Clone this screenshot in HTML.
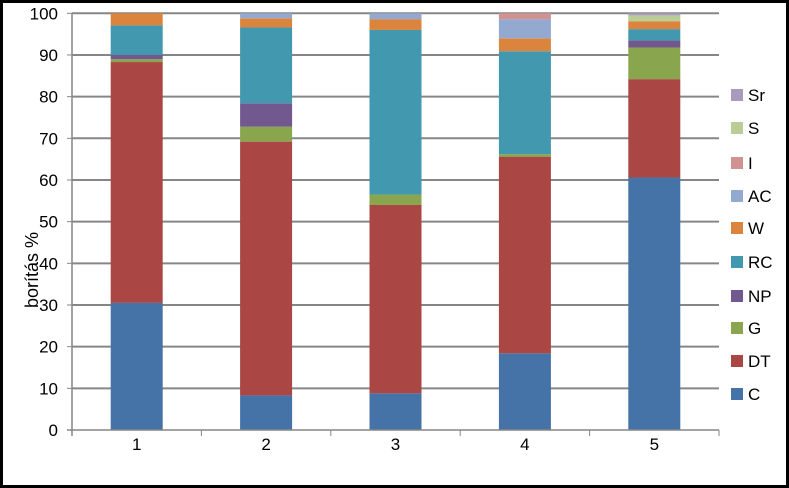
<!DOCTYPE html>
<html><head><meta charset="utf-8"><style>
html,body{margin:0;padding:0;background:#fff}
svg{display:block;font-family:"Liberation Sans",sans-serif}
</style></head><body>
<svg id="chart" width="789" height="488" xmlns="http://www.w3.org/2000/svg">
<rect x="1.5" y="1.5" width="786" height="485" fill="#fff" stroke="#000" stroke-width="3"/>
<g id="grid"></g><g id="bars"></g><g id="axes"></g><g id="legend"></g>
<text transform="translate(38,270) rotate(-90)" text-anchor="middle" font-size="18" fill="#000">borítás %</text>
</svg>
<script>
const categories = ["1","2","3","4","5"];
const seriesNames = ["C","DT","G","NP","RC","W","AC","I","S","Sr"];
const colors = ["#4572a7","#aa4643","#89a54e","#71588f","#4198af","#db843d","#93a9cf","#d19392","#b9cd96","#a99bbd"];
const sC  = [30.5, 8.3, 8.8, 18.4, 60.6];
const sDT = [57.8, 60.9, 45.2, 47.2, 23.6];
const sG  = [0.7, 3.6, 2.5, 0.6, 7.6];
const sNP = [1.0, 5.6, 0, 0, 1.7];
const sRC = [7.1, 18.2, 39.5, 24.7, 2.7];
const sW  = [2.9, 2.2, 2.6, 3.1, 1.9];
const sAC = [0, 1.2, 1.4, 4.6, 0];
const sI  = [0, 0, 0, 1.4, 0];
const sS  = [0, 0, 0, 0, 1.4];
const sSr = [0, 0, 0, 0, 0.5];
const yTicks = [0,10,20,30,40,50,60,70,80,90,100];

const series = [sC,sDT,sG,sNP,sRC,sW,sAC,sI,sS,sSr];
const NS="http://www.w3.org/2000/svg";
const X0=72, X1=719, Y0=430, Y1=13.3;
const y = v => Y0 - (v/100)*(Y0-Y1);
const band = (X1-X0)/categories.length;
const xc = i => X0 + band*(i+0.5);
const bw = 52;
function mk(tag, attrs, parent){const e=document.createElementNS(NS,tag);for(const k in attrs)e.setAttribute(k,attrs[k]);parent.appendChild(e);return e;}
const grid=document.getElementById('grid'), bars=document.getElementById('bars'), axes=document.getElementById('axes'), legend=document.getElementById('legend');
yTicks.forEach(t=>{
  if(t>0){const g=mk('line',{x1:X0,x2:X1,y1:y(t),y2:y(t),stroke:'#868686','stroke-width':2},grid);
  
  }
  const tk=mk('line',{x1:X0-5,x2:X0,y1:y(t),y2:y(t),stroke:'#868686','stroke-width':1},axes);
  
  
  const tl=mk('text',{x:X0-14,y:y(t)+6,'text-anchor':'end','font-size':17,fill:'#000'},axes);
  tl.textContent=t;
  
  
});
categories.forEach((c,i)=>{
  let acc=0;
  series.forEach((s,k)=>{
    const v=s[i]; if(v<=0) return;
    const r=mk('rect',{x:xc(i)-bw/2,y:y(acc+v),width:bw,height:y(acc)-y(acc+v),fill:colors[k]},bars);
    
    
    acc+=v;
  });
  const xl=mk('text',{x:xc(i),y:450,'text-anchor':'middle','font-size':17,fill:'#000'},axes);
  xl.textContent=c;
  
  
  const xt=mk('line',{x1:X0+band*(i+1),x2:X0+band*(i+1),y1:Y0,y2:Y0+6,stroke:'#868686'},axes);
  
  
});
const ya=mk('line',{x1:X0,x2:X0,y1:Y1,y2:Y0+6,stroke:'#868686','stroke-width':1.5},axes);


const xa=mk('line',{x1:X0-5,x2:X1,y1:Y0,y2:Y0,stroke:'#868686','stroke-width':1.5},axes);


const legY=[394,361,328,296,262,228,196,163,128,95];
seriesNames.forEach((n,k)=>{
  const g=mk('g',{},legend);
  
  
  mk('rect',{x:731,y:legY[k]-6,width:12,height:12,fill:colors[k]},g);
  const t=mk('text',{x:748,y:legY[k]+6,'font-size':17,fill:'#000'},g);
  t.textContent=n;
});
</script>
</body></html>
